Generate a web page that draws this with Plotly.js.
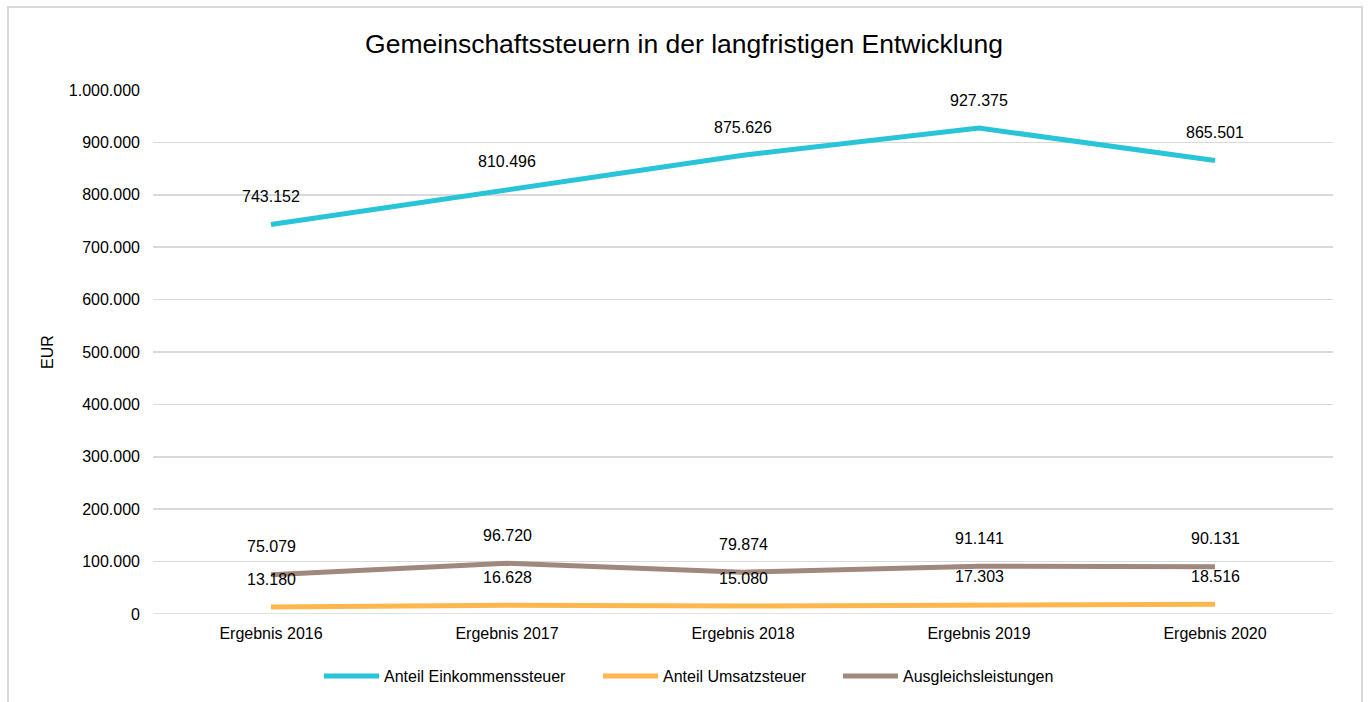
<!DOCTYPE html>
<html>
<head>
<meta charset="utf-8">
<script src="https://cdn.plot.ly/plotly-3.0.1.min.js"></script>
<style>
html,body{margin:0;padding:0;background:#fff;overflow:hidden;}
#chart{position:absolute;left:0;top:0;width:1368px;height:702px;}
#frame{position:absolute;left:7px;top:6px;width:1352px;height:720px;border:2px solid #d9d9d9;pointer-events:none;}
</style>
</head>
<body>
<div id="chart"></div>
<div id="frame"></div>
<script>
const categories = ["Ergebnis 2016","Ergebnis 2017","Ergebnis 2018","Ergebnis 2019","Ergebnis 2020"];
const einkommen = [743152, 810496, 875626, 927375, 865501];
const umsatz = [13180, 16628, 15080, 17303, 18516];
const ausgleich = [75079, 96720, 79874, 91141, 90131];
const seriesNames = ["Anteil Einkommenssteuer","Anteil Umsatzsteuer","Ausgleichsleistungen"];
const tickVals = [0,100000,200000,300000,400000,500000,600000,700000,800000,900000,1000000];

function fmt(v){
  return String(Math.round(v)).replace(/\B(?=(\d{3})+(?!\d))/g, ".");
}

const FONT = "Liberation Sans, Arial, sans-serif";
const colors = ["#29C4D8","#FFB74D","#A1887F"];
const seriesData = [einkommen, umsatz, ausgleich];
const legendIds = ["legend","legend2","legend3"];
const legendX = [319, 598, 838];

const traces = seriesData.map((d,i)=>({
  x: categories, y: d, type:"scatter", mode:"lines",
  name: seriesNames[i], legend: legendIds[i],
  line:{color:colors[i], width:5},
  hoverinfo:"skip"
}));

const annotations = [];
seriesData.forEach(d=>{
  d.forEach((v,j)=>{
    annotations.push({x:categories[j], y:v, xref:"x", yref:"y", text:fmt(v),
      showarrow:false, yshift:28, font:{family:FONT, size:16, color:"#000"}});
  });
});

function legendCfg(px){
  return {orientation:"h", x:px/1368, xanchor:"left", xref:"container", y:(702-676)/702, yanchor:"middle", yref:"container",
    font:{size:16}, itemwidth:55, bgcolor:"rgba(0,0,0,0)", borderwidth:0};
}

const layout = {
  width:1368, height:702,
  paper_bgcolor:"rgba(0,0,0,0)", plot_bgcolor:"#fff",
  margin:{l:153, r:35, t:90, b:88},
  title:{text:"Gemeinschaftssteuern in der langfristigen Entwicklung", x:0.5, xanchor:"center", y:0.938, yanchor:"middle",
    font:{family:FONT, size:26.5, color:"#000"}},
  font:{family:FONT, size:16, color:"#000"},
  xaxis:{type:"category", range:[-0.5,4.5], showgrid:false, zeroline:false, showline:false, ticks:"",
    tickfont:{size:16}, ticklabelstandoff:8, automargin:false},
  yaxis:{range:[0,1000000], tickvals:tickVals, ticktext:tickVals.map(fmt), showgrid:true, gridcolor:"#d9d9d9", gridwidth:1.5,
    zeroline:false, showline:false, ticks:"", tickfont:{size:16}, ticklabelstandoff:12, automargin:false,
    title:{text:"EUR", font:{size:16}, standoff:11}},
  showlegend:true,
  legend: legendCfg(legendX[0]),
  legend2: legendCfg(legendX[1]),
  legend3: legendCfg(legendX[2]),
  annotations: annotations,
  shapes:[{type:"line", xref:"paper", yref:"y", x0:0, x1:1, y0:0, y1:0, line:{color:"#d9d9d9", width:1.5}}]
};

Plotly.newPlot("chart", traces, layout, {staticPlot:true, displayModeBar:false});
</script>
</body>
</html>
